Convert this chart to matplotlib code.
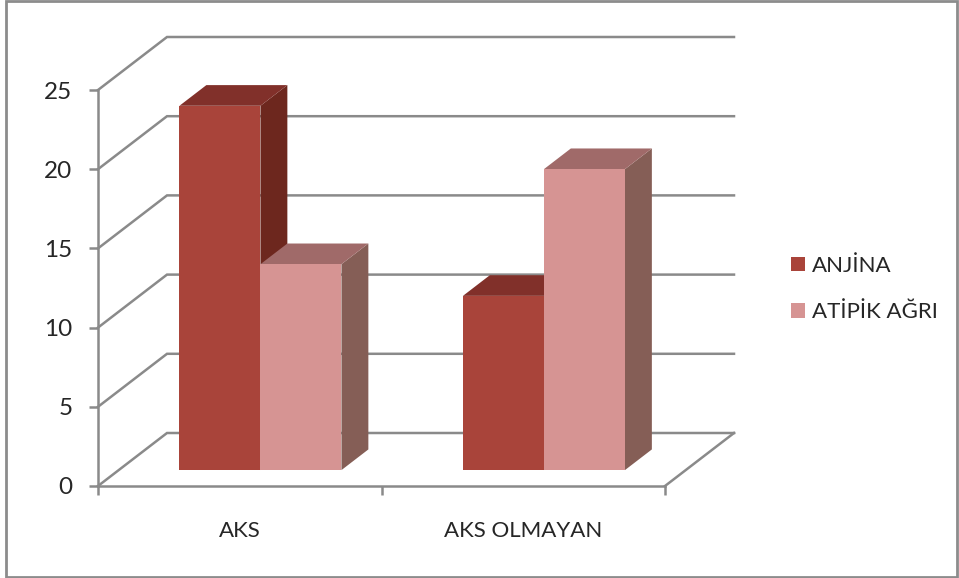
import matplotlib
matplotlib.use("Agg")
import matplotlib.pyplot as plt
from matplotlib.patches import Patch, Rectangle

plt.rcParams['font.family'] = ['Lato', 'DejaVu Sans']

categories = ["AKS", "AKS OLMAYAN"]
series_names = ["ANJİNA", "ATİPİK AĞRI"]
anjina = [23, 11]
atipik = [13, 19]
y_ticks = [0, 5, 10, 15, 20, 25]

W, H = 959, 578
AXIS_GRAY = "#8a8a8a"
TEXT = "#262626"
LINE_W = 1.8
# front, top, side
ANJINA_COLORS = ("#a9443a", "#81302a", "#6d271e")
ATIPIK_COLORS = ("#d69493", "#a06a69", "#855e56")

# depth shear in data units (1 category = 283.5px, 1 value unit = 15.84px)
DX = 69 / 283.5
DY = 53 / 15.84
BAR_W = 1 / 3.5
D0, D1 = 0.30, 0.69


def proj(x, v, d):
    return x + d * DX, v + d * DY


def draw_bar(ax, x, val, colors):
    x1 = x + BAR_W
    pts = [proj(x, 0, D0), proj(x1, 0, D0), proj(x1, val, D0), proj(x, val, D0)]
    top = [proj(x, val, D0), proj(x1, val, D0), proj(x1, val, D1), proj(x, val, D1)]
    side = [proj(x1, 0, D0), proj(x1, 0, D1), proj(x1, val, D1), proj(x1, val, D0)]
    for poly, c in zip((side, top, pts), (colors[2], colors[1], colors[0])):
        ax.fill(*zip(*poly), color=c, linewidth=0, clip_on=False, zorder=3)


fig = plt.figure(figsize=(W / 100, H / 100), dpi=100, facecolor="white")
ax = fig.add_axes([98 / W, 1 - 486 / H, 567 / W, 396 / H], facecolor="none")

# wall and floor lines
for v in y_ticks:
    bx, by = proj(0, v, 1)
    ex, ey = proj(2, v, 1)
    ax.plot([0, bx, ex], [v, by, ey], color=AXIS_GRAY, lw=LINE_W, clip_on=False, zorder=1,
            solid_joinstyle="miter")
fx, fy = proj(2, 0, 1)
ax.plot([2, fx], [0, fy], color=AXIS_GRAY, lw=LINE_W, clip_on=False, zorder=1)

for i in range(len(categories)):
    start = i + (1 - 2 * BAR_W) / 2
    draw_bar(ax, start, anjina[i], ANJINA_COLORS)
    draw_bar(ax, start + BAR_W, atipik[i], ATIPIK_COLORS)

ax.set_xlim(0, 2)
ax.set_ylim(0, 25)
ax.set_yticks(y_ticks)
ax.set_xticks([0, 1, 2], labels=[])
ax.set_xticks([0.5, 1.5], labels=categories, minor=True)
ax.tick_params(axis="y", length=6.5, width=LINE_W, color=AXIS_GRAY, labelsize=17.5, labelcolor=TEXT, pad=12)
ax.tick_params(axis="x", which="major", length=6.5, width=LINE_W, color=AXIS_GRAY)
ax.tick_params(axis="x", which="minor", length=0, labelsize=16, labelcolor=TEXT, pad=25)
for s in ("top", "right"):
    ax.spines[s].set_visible(False)
for s in ("left", "bottom"):
    ax.spines[s].set_color(AXIS_GRAY)
    ax.spines[s].set_linewidth(LINE_W)

handles = [Patch(color=ANJINA_COLORS[0], linewidth=0), Patch(color=ATIPIK_COLORS[0], linewidth=0)]
fig.legend(handles, series_names, loc="center left", bbox_to_anchor=(791 / W, 1 - 289 / H),
           frameon=False, fontsize=16, labelcolor=TEXT, handlelength=0.64, handleheight=0.64,
           handletextpad=0.32, labelspacing=1.2, borderpad=0, borderaxespad=0)

# chart frame
fig.add_artist(Rectangle((6 / W, 1 / H), 951 / W, 576 / H, transform=fig.transFigure,
                         fill=False, edgecolor="#8c8c8c", lw=2))

fig.savefig("out.png", dpi=100)
